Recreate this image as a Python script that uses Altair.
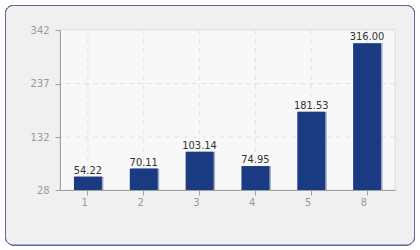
import altair as alt
import pandas as pd

categories = ["1", "2", "3", "4", "5", "8"]
values = [54.22, 70.11, 103.14, 74.95, 181.53, 316.00]
y_ticks = [28, 132, 237, 342]
grid_y = [132, 237]

W, H = 335, 160
FONT = "DejaVu Sans Condensed"

df = pd.DataFrame({"cat": categories, "val": values})
grid_df = pd.DataFrame({"gy": grid_y})

xscale = alt.Scale(domain=categories, paddingInner=0.5, paddingOuter=0.25)
yscale = alt.Scale(domain=[28, 342], zero=False, nice=False)

frame = alt.Chart(df).mark_rect(
    fill="#f0f0f0", stroke="#5a6a98", strokeWidth=1, cornerRadius=8, clip=False
).encode(
    x=alt.value(-54.5), x2=alt.value(354.5), y=alt.value(-24.5), y2=alt.value(215)
)

plotbg = alt.Chart(df).mark_rect(
    fill="#f8f8f8", stroke="#e2e2e2", strokeWidth=1
).encode(
    x=alt.value(0), x2=alt.value(W), y=alt.value(0), y2=alt.value(H)
)

vgrid = alt.Chart(df).mark_rule(
    color="#e3e3e3", strokeDash=[5, 4], strokeWidth=1
).encode(
    x=alt.X("cat:N", scale=xscale, sort=None)
)

hgrid = alt.Chart(grid_df).mark_rule(
    color="#e3e3e3", strokeDash=[5, 4], strokeWidth=1
).encode(
    y=alt.Y("gy:Q", scale=yscale)
)

shadow = alt.Chart(df).mark_bar(color="#9aa6c4", xOffset=1.5).encode(
    x=alt.X("cat:N", scale=xscale, sort=None),
    y=alt.Y("val:Q", scale=yscale),
    y2=alt.Y2(datum=28),
)

bars = alt.Chart(df).mark_bar(color="#1a3a82").encode(
    x=alt.X("cat:N", scale=xscale, sort=None,
            axis=alt.Axis(title=None, labelAngle=0, domainColor="#a0a0a0",
                          tickColor="#a0a0a0", tickSize=5, labelColor="#999999",
                          labelFont=FONT, labelFontSize=11, labelPadding=7,
                          grid=False, zindex=1)),
    y=alt.Y("val:Q", scale=yscale,
            axis=alt.Axis(title=None, values=y_ticks, domainColor="#a0a0a0",
                          tickColor="#a0a0a0", tickSize=5, labelColor="#999999",
                          labelFont=FONT, labelFontSize=11, labelPadding=6,
                          grid=False, zindex=1)),
    y2=alt.Y2(datum=28),
)

labels = alt.Chart(df).mark_text(
    baseline="bottom", dy=-1, font=FONT, fontSize=11, color="#333333"
).encode(
    x=alt.X("cat:N", scale=xscale, sort=None),
    y=alt.Y("val:Q", scale=yscale),
    text=alt.Text("val:Q", format=".2f"),
)

chart = alt.layer(frame, plotbg, vgrid, hgrid, shadow, bars, labels).properties(
    width=W, height=H,
    autosize=alt.AutoSizeParams(type="none"),
    padding={"left": 60, "top": 30, "right": 25, "bottom": 60},
    background="#ffffff",
).configure_view(stroke=None)

chart.save("out.html", embed_options={"renderer": "svg", "actions": False})
